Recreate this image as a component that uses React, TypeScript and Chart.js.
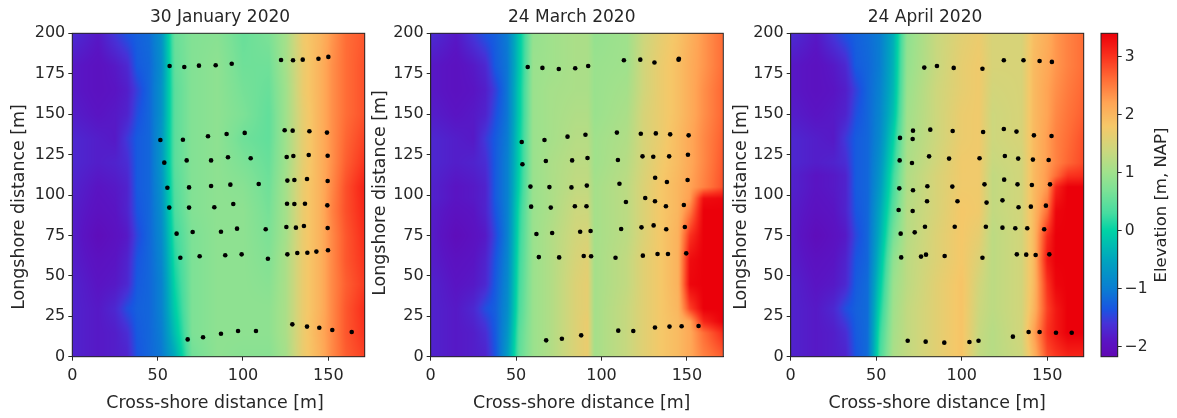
import React, { useEffect, useRef } from "react";
import { Chart, registerables } from "chart.js";

Chart.register(...registerables);

const TITLES = ["30 January 2020", "24 March 2020", "24 April 2020"];
const X_LABEL = "Cross-shore distance [m]";
const Y_LABEL = "Longshore distance [m]";
const BAR_LABEL = "Elevation [m, NAP]";
const X_TICKS = [0, 50, 100, 150];
const Y_TICKS = [0, 25, 50, 75, 100, 125, 150, 175, 200];
const BAR_TICKS = [-2, -1, 0, 1, 2, 3];
const X_MAX = 171.3;
const V_MIN = -2.17;
const V_MAX = 3.4;

// colour scale
const CMAP_V = [-2.17, -1.9, -1.6, -1.35, -1.0, -0.5, 0, 0.3, 0.7, 1.0, 1.4, 1.8, 2.2, 2.6, 3.0, 3.4];
const CMAP_R = [98, 90, 70, 25, 10, 0, 0, 70, 125, 160, 205, 245, 255, 255, 250, 235];
const CMAP_G = [8, 20, 50, 85, 125, 165, 210, 220, 225, 225, 215, 200, 165, 110, 50, 0];
const CMAP_B = [180, 195, 215, 225, 210, 190, 165, 160, 150, 140, 125, 105, 85, 55, 30, 10];

// survey points
const JAN_X = [57, 65.6, 74.2, 84, 93.4, 122.3, 129.3, 135, 144.2, 150, 51.6, 64.8, 79.5, 90.4, 101, 124.4, 129.1, 138.9, 149.2, 53.9, 67, 81.3, 91.2, 104.5, 125.6, 129.5, 138.5, 149.6, 55.7, 68.4, 81.3, 92.6, 109.2, 126, 130.1, 137.5, 149.6, 56.8, 68.4, 83.2, 94.3, 125.8, 130.1, 136.3, 149.4, 61.1, 70.5, 87.1, 96.5, 113.3, 125.4, 131, 135.7, 149.6, 63.3, 74.6, 89.6, 99.2, 114.6, 126, 131.8, 137.7, 143, 149.8, 67.6, 76.6, 87.1, 97.1, 107.6, 128.9, 137.5, 144.7, 152.3, 163.7];
const JAN_Y = [179.8, 179.2, 180, 180.2, 181.2, 183.5, 183.3, 183.7, 184.3, 185.4, 134, 134.2, 136.3, 137.7, 138.4, 140, 139.8, 139.4, 138.6, 120, 121.4, 121.4, 123.3, 122.7, 123.5, 124.1, 124.7, 124.3, 104.5, 104.7, 105.6, 106.4, 106.8, 108.9, 109.3, 109.9, 108.7, 92.2, 92.2, 92.4, 94.4, 94.6, 94.4, 94.6, 93.6, 76.1, 77.1, 77.3, 79.2, 78.8, 80.2, 79.8, 80.8, 79.6, 61.2, 62.1, 62.7, 63.3, 60.6, 63.3, 64.1, 64.3, 65, 65.8, 10.7, 12, 14.2, 15.9, 15.9, 20, 18.6, 17.9, 16.5, 15.3];
const MAR_X = [56.8, 65.4, 75, 84.6, 92.2, 113.1, 122.7, 131, 145.1, 145.3, 53.3, 66.6, 80.1, 90.6, 109, 123, 131.8, 140.2, 151, 53.7, 67.4, 82.8, 91.8, 109.6, 124, 130.3, 139.6, 150.6, 58.4, 69.5, 82.4, 91.4, 110.5, 131.4, 138.3, 150.4, 58.8, 70.3, 84.4, 91.2, 114.3, 125.6, 131.3, 137.7, 148.2, 61.9, 71.1, 87.5, 93.6, 111.5, 123.4, 130.5, 137.9, 148.8, 63.3, 75.2, 89.6, 93.9, 108.2, 124.2, 132.8, 138.9, 149.6, 67.6, 76.8, 88.1, 109.8, 118.6, 131.3, 139.8, 146.9, 156.8];
const MAR_Y = [179.2, 178.6, 177.9, 178.4, 179.8, 183.3, 183.7, 181.9, 183.7, 184.2, 132.8, 134, 136.1, 137.3, 138.6, 137.9, 138.1, 137.5, 136.9, 119, 121, 121.4, 122.9, 121.6, 123.9, 123.7, 123.9, 124.9, 105.2, 104.9, 104.7, 105.8, 107, 110.7, 108, 109.3, 92.8, 92.2, 93, 93, 95.7, 98.1, 96.1, 93, 93.8, 75.9, 76.5, 77.3, 77.7, 79, 80, 81.2, 78.8, 80.2, 61.6, 61.4, 62.3, 62.1, 61.2, 62.5, 63.5, 63.5, 63.9, 10.1, 11.1, 13.2, 16.1, 15.9, 18.1, 18.6, 18.8, 19];
const APR_X = [78.1, 85.5, 95.3, 112.1, 124.6, 136.1, 145.5, 152.7, 63.9, 71.3, 71.5, 81.6, 94.7, 112.5, 124.6, 132, 142.2, 152.5, 63.7, 70.9, 80.9, 92.6, 110.4, 125.2, 133, 141.6, 150.8, 63.5, 71.5, 79.9, 94.5, 113.3, 124.8, 132.6, 141, 151.6, 63.1, 71.3, 79.7, 97.5, 114.5, 123.8, 133.2, 140.4, 149.2, 64.3, 72.5, 78.5, 95.9, 114.1, 123.8, 131.3, 138.3, 148.2, 64.6, 76.2, 79.1, 90, 112.1, 132.2, 137.7, 143.2, 151.2, 68.4, 78.9, 89.8, 104.5, 109.8, 129.9, 139.1, 145.5, 155.1, 164.3];
const APR_Y = [178.8, 179.8, 178.6, 178.1, 183.3, 183.3, 182.9, 182.3, 135.3, 134.6, 139.8, 140.4, 139.6, 139, 140.8, 139.2, 136.9, 136.5, 121.4, 119.8, 123.9, 122.5, 122.7, 124.1, 122.5, 121.9, 121.6, 104.1, 102.9, 105.4, 105.2, 106.6, 109.5, 106.6, 106.2, 106.6, 90.7, 90.1, 96.1, 96.1, 95.3, 96.7, 92.4, 92.8, 93.4, 76.1, 76.9, 80.4, 80.4, 80.4, 79.8, 79.4, 79.4, 78.8, 61.4, 61.9, 63.1, 62.3, 61.2, 63.3, 63.1, 62.9, 63.3, 9.9, 9.3, 8.7, 9.1, 9.9, 12.4, 15.3, 15.3, 14.8, 14.8];

// elevation tables: one row per Y entry, one value per X entry
const JAN_GX = [0, 15, 25, 32, 38, 45, 52, 60, 70, 85, 100, 115, 125, 135, 145, 152, 160, 171.3];
const JAN_GY = [0, 15, 30, 45, 60, 75, 90, 105, 120, 135, 150, 165, 180, 200];
const JAN_ELEV = [
  [-1.75, -1.85, -1.8, -1.75, -1.35, -1.2, -1.05, -0.45, 0.6, 0.85, 0.8, 0.8, 1.05, 1.7, 2.05, 2.4, 2.7, 2.9],
  [-1.75, -1.85, -1.8, -1.65, -1.3, -1.2, -1.0, -0.2, 0.7, 0.85, 0.85, 0.85, 1.1, 1.7, 2.1, 2.4, 2.75, 3.0],
  [-1.75, -1.85, -1.7, -1.4, -1.25, -1.2, -0.95, -0.05, 0.7, 0.85, 0.85, 0.85, 1.1, 1.7, 2.05, 2.4, 2.75, 3.05],
  [-1.75, -1.9, -1.85, -1.7, -1.3, -1.2, -0.95, 0.05, 0.7, 0.85, 0.85, 0.8, 1.1, 1.7, 2.05, 2.4, 2.7, 2.95],
  [-1.8, -1.95, -1.9, -1.75, -1.35, -1.2, -0.9, 0.15, 0.7, 0.85, 0.85, 0.75, 1.1, 1.7, 2.05, 2.4, 2.75, 3.0],
  [-1.8, -2.05, -1.95, -1.85, -1.45, -1.2, -0.85, 0.25, 0.7, 0.85, 0.85, 0.7, 1.05, 1.7, 2.05, 2.4, 2.75, 3.05],
  [-1.8, -1.95, -1.9, -1.75, -1.35, -1.2, -0.8, 0.35, 0.75, 0.85, 0.85, 0.65, 1.05, 1.7, 2.05, 2.45, 2.8, 3.1],
  [-1.75, -1.9, -1.85, -1.75, -1.3, -1.2, -0.75, 0.4, 0.75, 0.85, 0.8, 0.6, 1.05, 1.7, 2.05, 2.4, 2.8, 3.15],
  [-1.7, -1.8, -1.75, -1.65, -1.3, -1.2, -0.7, 0.45, 0.75, 0.85, 0.7, 0.55, 1.0, 1.65, 2.05, 2.35, 2.7, 3.0],
  [-1.7, -1.8, -1.85, -1.55, -1.3, -1.2, -0.7, 0.45, 0.75, 0.85, 0.6, 0.5, 1.0, 1.65, 2.05, 2.35, 2.65, 2.9],
  [-1.8, -1.9, -1.85, -1.75, -1.4, -1.2, -0.75, 0.45, 0.75, 0.85, 0.7, 0.5, 1.0, 1.65, 2.05, 2.35, 2.6, 2.8],
  [-1.85, -1.95, -1.9, -1.8, -1.5, -1.2, -0.75, 0.45, 0.75, 0.85, 0.65, 0.55, 1.0, 1.7, 2.05, 2.35, 2.6, 2.8],
  [-1.85, -1.95, -1.85, -1.7, -1.3, -1.2, -0.8, 0.5, 0.75, 0.85, 0.6, 0.6, 1.05, 1.7, 2.05, 2.35, 2.6, 2.8],
  [-1.65, -1.85, -1.55, -1.35, -1.25, -1.15, -0.75, 0.55, 0.75, 0.8, 0.55, 0.7, 1.05, 1.75, 2.0, 2.3, 2.6, 2.75],
];

const MAR_GX = [0, 15, 25, 32, 38, 45, 52, 60, 70, 85, 92, 96, 115, 125, 135, 145, 152, 160, 171.3];
const MAR_GY = [0, 15, 22, 30, 45, 60, 75, 90, 98, 105, 120, 135, 150, 165, 180, 200];
const MAR_ELEV = [
  [-1.75, -1.85, -1.8, -1.75, -1.35, -0.6, 0.5, 0.95, 1.15, 1.55, 1.7, 1.05, 1.35, 1.6, 1.8, 1.95, 2.15, 2.45, 2.7],
  [-1.75, -1.85, -1.8, -1.65, -1.3, -0.7, 0.45, 0.95, 1.15, 1.55, 1.7, 1.05, 1.35, 1.6, 1.8, 1.95, 2.15, 2.6, 3.05],
  [-1.75, -1.85, -1.75, -1.55, -1.28, -0.75, 0.4, 0.95, 1.15, 1.55, 1.7, 1.05, 1.35, 1.6, 1.8, 1.95, 2.2, 3.1, 3.4],
  [-1.75, -1.85, -1.7, -1.4, -1.25, -0.8, 0.35, 0.95, 1.15, 1.55, 1.65, 1.05, 1.35, 1.6, 1.8, 2.0, 2.9, 3.4, 3.4],
  [-1.75, -1.9, -1.85, -1.7, -1.3, -0.85, 0.3, 0.95, 1.15, 1.55, 1.65, 1.05, 1.3, 1.6, 1.8, 2.05, 3.35, 3.4, 3.4],
  [-1.8, -1.95, -1.9, -1.75, -1.35, -0.9, 0.25, 0.95, 1.15, 1.5, 1.6, 1.05, 1.3, 1.6, 1.8, 2.05, 3.3, 3.4, 3.4],
  [-1.8, -2.05, -1.95, -1.85, -1.45, -0.95, 0.2, 0.95, 1.15, 1.45, 1.5, 1.05, 1.25, 1.55, 1.8, 2.05, 3.0, 3.4, 3.4],
  [-1.8, -1.95, -1.9, -1.75, -1.35, -0.95, 0.15, 0.95, 1.1, 1.4, 1.4, 1.05, 1.25, 1.55, 1.8, 2.0, 2.5, 3.4, 3.4],
  [-1.75, -1.9, -1.85, -1.75, -1.3, -0.95, 0.1, 0.95, 1.1, 1.35, 1.35, 1.05, 1.25, 1.55, 1.8, 2.0, 2.25, 3.3, 3.35],
  [-1.75, -1.9, -1.85, -1.75, -1.3, -0.95, 0.05, 0.95, 1.1, 1.3, 1.3, 1.05, 1.25, 1.55, 1.8, 2.0, 2.2, 2.45, 2.8],
  [-1.7, -1.8, -1.75, -1.65, -1.3, -0.95, 0.0, 0.95, 1.1, 1.25, 1.25, 1.0, 1.2, 1.5, 1.75, 1.95, 2.15, 2.4, 2.75],
  [-1.7, -1.8, -1.85, -1.55, -1.3, -1.0, 0.0, 0.95, 1.05, 1.2, 1.2, 1.0, 1.15, 1.5, 1.7, 1.95, 2.15, 2.4, 2.7],
  [-1.8, -1.9, -1.85, -1.75, -1.4, -1.05, -0.05, 0.95, 1.05, 1.15, 1.15, 0.95, 1.1, 1.5, 1.7, 1.9, 2.1, 2.35, 2.65],
  [-1.85, -1.95, -1.9, -1.8, -1.5, -1.05, -0.05, 0.95, 1.05, 1.1, 1.1, 0.95, 1.05, 1.45, 1.7, 1.9, 2.1, 2.35, 2.65],
  [-1.85, -1.95, -1.85, -1.7, -1.3, -1.05, -0.1, 0.95, 1.0, 1.1, 1.1, 0.95, 1.0, 1.45, 1.7, 1.9, 2.1, 2.3, 2.6],
  [-1.65, -1.85, -1.55, -1.35, -1.25, -1.0, -0.1, 0.9, 1.0, 1.1, 1.1, 0.9, 1.0, 1.4, 1.65, 1.85, 2.05, 2.3, 2.6],
];

const APR_GX = [0, 15, 25, 32, 38, 45, 52, 60, 68, 85, 100, 110, 118, 135, 142, 150, 155, 162, 171.3];
const APR_GY = [0, 15, 30, 45, 60, 75, 90, 105, 112, 120, 135, 150, 165, 180, 200];
const APR_ELEV = [
  [-1.75, -1.85, -1.8, -1.75, -1.35, -1.15, 0.3, 1.1, 1.3, 1.6, 1.85, 1.3, 1.2, 1.4, 2.0, 2.8, 2.95, 3.1, 3.1],
  [-1.75, -1.85, -1.8, -1.65, -1.3, -1.15, 0.2, 1.05, 1.3, 1.6, 1.85, 1.35, 1.2, 1.45, 2.2, 3.0, 3.2, 3.4, 3.4],
  [-1.75, -1.85, -1.7, -1.4, -1.25, -1.15, 0.05, 1.0, 1.3, 1.6, 1.85, 1.4, 1.25, 1.45, 2.0, 2.9, 3.2, 3.4, 3.4],
  [-1.75, -1.9, -1.85, -1.7, -1.3, -1.15, -0.1, 0.95, 1.25, 1.6, 1.85, 1.45, 1.25, 1.45, 1.95, 3.0, 3.35, 3.4, 3.4],
  [-1.8, -1.95, -1.9, -1.75, -1.35, -1.2, -0.25, 0.85, 1.25, 1.55, 1.8, 1.55, 1.25, 1.45, 1.95, 3.2, 3.4, 3.4, 3.4],
  [-1.8, -2.05, -1.95, -1.85, -1.45, -1.2, -0.4, 0.65, 1.2, 1.55, 1.8, 1.65, 1.25, 1.45, 1.95, 3.05, 3.4, 3.4, 3.4],
  [-1.8, -1.95, -1.9, -1.75, -1.35, -1.2, -0.5, 0.45, 1.2, 1.5, 1.8, 1.75, 1.3, 1.45, 1.95, 2.6, 3.35, 3.4, 3.4],
  [-1.75, -1.9, -1.85, -1.75, -1.3, -1.2, -0.65, 0.3, 1.15, 1.5, 1.75, 1.75, 1.3, 1.45, 1.95, 2.3, 3.1, 3.4, 3.4],
  [-1.75, -1.9, -1.85, -1.75, -1.3, -1.2, -0.7, 0.25, 1.15, 1.5, 1.75, 1.75, 1.3, 1.45, 1.95, 2.3, 2.6, 3.0, 3.05],
  [-1.7, -1.8, -1.75, -1.65, -1.3, -1.2, -0.75, 0.15, 1.1, 1.45, 1.75, 1.75, 1.35, 1.45, 1.95, 2.25, 2.45, 2.65, 2.85],
  [-1.7, -1.8, -1.85, -1.55, -1.3, -1.2, -0.85, 0.0, 1.05, 1.4, 1.7, 1.75, 1.4, 1.5, 1.95, 2.25, 2.45, 2.6, 2.8],
  [-1.8, -1.9, -1.85, -1.75, -1.4, -1.2, -0.9, -0.2, 1.0, 1.4, 1.7, 1.75, 1.4, 1.5, 1.95, 2.2, 2.4, 2.55, 2.7],
  [-1.85, -1.95, -1.9, -1.8, -1.5, -1.2, -0.95, -0.3, 0.95, 1.4, 1.65, 1.75, 1.45, 1.5, 1.95, 2.2, 2.35, 2.5, 2.65],
  [-1.85, -1.95, -1.85, -1.7, -1.3, -1.2, -1.0, -0.35, 0.9, 1.35, 1.65, 1.75, 1.5, 1.5, 1.95, 2.15, 2.3, 2.45, 2.6],
  [-1.65, -1.85, -1.55, -1.35, -1.25, -1.15, -1.0, -0.4, 0.85, 1.35, 1.6, 1.7, 1.5, 1.5, 1.9, 2.1, 2.3, 2.45, 2.6],
];

const INK = "#262626";
const FONT = "'DejaVu Sans'";

function locate(axis: number[], v: number): [number, number] {
  let i = 0;
  while (i < axis.length - 2 && v > axis[i + 1]) i++;
  const f = (v - axis[i]) / (axis[i + 1] - axis[i]);
  return [i, Math.min(1, Math.max(0, f))];
}

function colourOf(v: number): [number, number, number] {
  const [i, f] = locate(CMAP_V, v);
  return [
    CMAP_R[i] + (CMAP_R[i + 1] - CMAP_R[i]) * f,
    CMAP_G[i] + (CMAP_G[i + 1] - CMAP_G[i]) * f,
    CMAP_B[i] + (CMAP_B[i + 1] - CMAP_B[i]) * f,
  ];
}

const surfacePlugin = {
  id: "surface",
  afterLayout(chart: any, _a: any, opts: any) {
    if (chart.titleBlock && opts.titleCentre !== undefined) {
      const half = (chart.titleBlock.right - chart.titleBlock.left) / 2;
      chart.titleBlock.left = opts.titleCentre - half;
      chart.titleBlock.right = opts.titleCentre + half;
    }
  },
  beforeDatasetsDraw(chart: any, _a: any, opts: any) {
    const { gx, gy, elev } = opts;
    if (!elev) return;
    const { left, top, right, bottom } = chart.chartArea;
    const w = Math.round(right - left);
    const h = Math.round(bottom - top);
    const off = document.createElement("canvas");
    off.width = w;
    off.height = h;
    const octx = off.getContext("2d")!;
    const img = octx.createImageData(w, h);
    for (let py = 0; py < h; py++) {
      const [j, fy] = locate(gy, chart.scales.y.getValueForPixel(top + py + 0.5));
      for (let px = 0; px < w; px++) {
        const [i, fx] = locate(gx, chart.scales.x.getValueForPixel(left + px + 0.5));
        const a = elev[j][i] * (1 - fx) + elev[j][i + 1] * fx;
        const b = elev[j + 1][i] * (1 - fx) + elev[j + 1][i + 1] * fx;
        const c = colourOf(a * (1 - fy) + b * fy);
        const k = (py * w + px) * 4;
        img.data[k] = c[0];
        img.data[k + 1] = c[1];
        img.data[k + 2] = c[2];
        img.data[k + 3] = 255;
      }
    }
    octx.putImageData(img, 0, 0);
    chart.ctx.drawImage(off, left, top, right - left, bottom - top);
  },
  afterDraw(chart: any) {
    const { left, top, right, bottom } = chart.chartArea;
    const ctx = chart.ctx;
    ctx.save();
    ctx.strokeStyle = INK;
    ctx.lineWidth = 1;
    ctx.strokeRect(left, top, right - left, bottom - top);
    ctx.restore();
  },
};

const colorbarPlugin = {
  id: "colorbar",
  beforeDatasetsDraw(chart: any) {
    const { left, right, top, bottom } = chart.chartArea;
    const ctx = chart.ctx;
    for (let py = Math.floor(top); py < bottom; py++) {
      const c = colourOf(chart.scales.y.getValueForPixel(py + 0.5));
      ctx.fillStyle = `rgb(${c[0]},${c[1]},${c[2]})`;
      ctx.fillRect(left, py, right - left, 1);
    }
  },
};

function nudgeTitle(scale: any, dx: number, dy: number) {
  if (scale.__nudged) return;
  scale.__nudged = true;
  const orig = scale.drawTitle;
  scale.drawTitle = function () {
    const ctx = this.ctx;
    ctx.save();
    ctx.translate(dx, dy);
    orig.call(this);
    ctx.restore();
  };
}

// right-hand title that reads bottom to top, as in the reference
function upwardTitle(scale: any, cx: number, cy: number) {
  if (scale.__upward) return;
  scale.__upward = true;
  scale.drawTitle = function () {
    const ctx = this.ctx;
    const t = this.options.title;
    ctx.save();
    ctx.translate(cx, cy);
    ctx.rotate(-Math.PI / 2);
    ctx.font = `${t.font.size}px ${FONT}`;
    ctx.fillStyle = t.color;
    ctx.textAlign = "center";
    ctx.textBaseline = "middle";
    ctx.fillText(t.text, 0, 0);
    ctx.restore();
  };
}

const TOP_H = 33.3;
const BOTTOM_H = 61.3;
const PANELS = [
  { title: TITLES[0], xs: JAN_X, ys: JAN_Y, gx: JAN_GX, gy: JAN_GY, elev: JAN_ELEV, left: 0, width: 390, axisW: 72.3, areaW: 292.4, titleCentre: 220, xShift: -3.5, yTitleDx: 9, yTitleDy: 12 },
  { title: TITLES[1], xs: MAR_X, ys: MAR_Y, gx: MAR_GX, gy: MAR_GY, elev: MAR_ELEV, left: 360, width: 390, axisW: 70.7, areaW: 292.6, titleCentre: 211.7, xShift: 4.7, yTitleDx: 10.5, yTitleDy: -2 },
  { title: TITLES[2], xs: APR_X, ys: APR_Y, gx: APR_GX, gy: APR_GY, elev: APR_ELEV, left: 725, width: 390, axisW: 65.7, areaW: 293, titleCentre: 200, xShift: 0, yTitleDx: 6.5, yTitleDy: 12 },
];

const TICK_FONT = { family: FONT, size: 16 };
const LABEL_FONT = { family: FONT, size: 17.4 };

function Panel({ p }: { p: (typeof PANELS)[number] }) {
  const ref = useRef<HTMLCanvasElement>(null);
  useEffect(() => {
    const chart = new Chart(ref.current!, {
      type: "scatter",
      data: {
        datasets: [
          {
            data: p.xs.map((x, i) => ({ x, y: p.ys[i] })),
            backgroundColor: "#000",
            borderColor: "#000",
            pointRadius: 2.3,
            pointBorderWidth: 0,
          },
        ],
      },
      options: {
        animation: false,
        responsive: false,
        devicePixelRatio: 1,
        layout: { padding: { right: p.width - p.axisW - p.areaW } },
        plugins: {
          legend: { display: false },
          tooltip: { enabled: false },
          title: {
            display: true,
            text: p.title,
            color: INK,
            font: { family: FONT, size: 17, weight: "normal" },
            padding: { top: 7.5, bottom: 5.4 },
          },
          surface: { gx: p.gx, gy: p.gy, elev: p.elev, titleCentre: p.titleCentre },
        } as any,
        scales: {
          x: {
            type: "linear",
            min: 0,
            max: X_MAX,
            afterBuildTicks: (s: any) => {
              s.ticks = X_TICKS.map((value) => ({ value }));
            },
            afterFit: (s: any) => {
              s.height = BOTTOM_H;
              nudgeTitle(s, p.xShift, 0);
            },
            grid: { drawOnChartArea: false, drawTicks: true, tickLength: 4, color: INK },
            border: { color: INK },
            ticks: { color: INK, font: TICK_FONT, padding: 6, maxRotation: 0, autoSkip: false },
            title: { display: true, text: X_LABEL, color: INK, align: "center", font: LABEL_FONT, padding: { top: 9 } },
          },
          y: {
            type: "linear",
            min: 0,
            max: 200,
            afterBuildTicks: (s: any) => {
              s.ticks = Y_TICKS.map((value) => ({ value }));
            },
            afterFit: (s: any) => {
              s.width = p.axisW;
              nudgeTitle(s, p.yTitleDx, p.yTitleDy);
            },
            grid: { drawOnChartArea: false, drawTicks: true, tickLength: 4, color: INK },
            border: { color: INK },
            ticks: { color: INK, font: TICK_FONT, padding: 3, autoSkip: false },
            title: { display: true, text: Y_LABEL, color: INK, font: LABEL_FONT, padding: { top: 0, bottom: 0 } },
          },
        },
      } as any,
      plugins: [surfacePlugin],
    });
    return () => chart.destroy();
  }, []);
  return <canvas ref={ref} width={p.width} height={418} style={{ position: "absolute", left: p.left, top: 0, width: p.width, height: 418 }} />;
}

function ColorBar() {
  const ref = useRef<HTMLCanvasElement>(null);
  useEffect(() => {
    const chart = new Chart(ref.current!, {
      type: "scatter",
      data: { datasets: [{ data: [] }] },
      options: {
        animation: false,
        responsive: false,
        devicePixelRatio: 1,
        layout: { padding: { left: 6, top: TOP_H, bottom: BOTTOM_H } },
        plugins: {
          legend: { display: false },
          tooltip: { enabled: false },
        } as any,
        scales: {
          x: { display: false, type: "linear", min: 0, max: 1 },
          y: {
            type: "linear",
            position: "right",
            min: V_MIN,
            max: V_MAX,
            afterBuildTicks: (s: any) => {
              s.ticks = BAR_TICKS.map((value) => ({ value }));
            },
            afterFit: (s: any) => {
              s.width = 59.3;
              upwardTitle(s, 67, 205);
            },
            grid: { drawOnChartArea: false, drawTicks: true, tickLength: 4, color: INK },
            border: { color: INK },
            ticks: {
              color: INK,
              font: { family: FONT, size: 15.5 },
              padding: 3,
              autoSkip: false,
              callback: (v: any) => String(v).replace("-", "\u2212"),
            },
            title: { display: true, text: BAR_LABEL, color: INK, font: { family: FONT, size: 16.5 }, padding: { top: 0, bottom: 0 } },
          },
        },
      } as any,
      plugins: [colorbarPlugin, { id: "barFrame", afterDraw: surfacePlugin.afterDraw }],
    });
    return () => chart.destroy();
  }, []);
  return <canvas ref={ref} width={82} height={418} style={{ position: "absolute", left: 1095, top: 0, width: 82, height: 418 }} />;
}

export default function App() {
  return (
    <div style={{ position: "fixed", left: 0, top: 0, width: 1177, height: 418, background: "#fff", overflow: "hidden" }}>
      {PANELS.map((p) => (
        <Panel key={p.title} p={p} />
      ))}
      <ColorBar />
    </div>
  );
}
